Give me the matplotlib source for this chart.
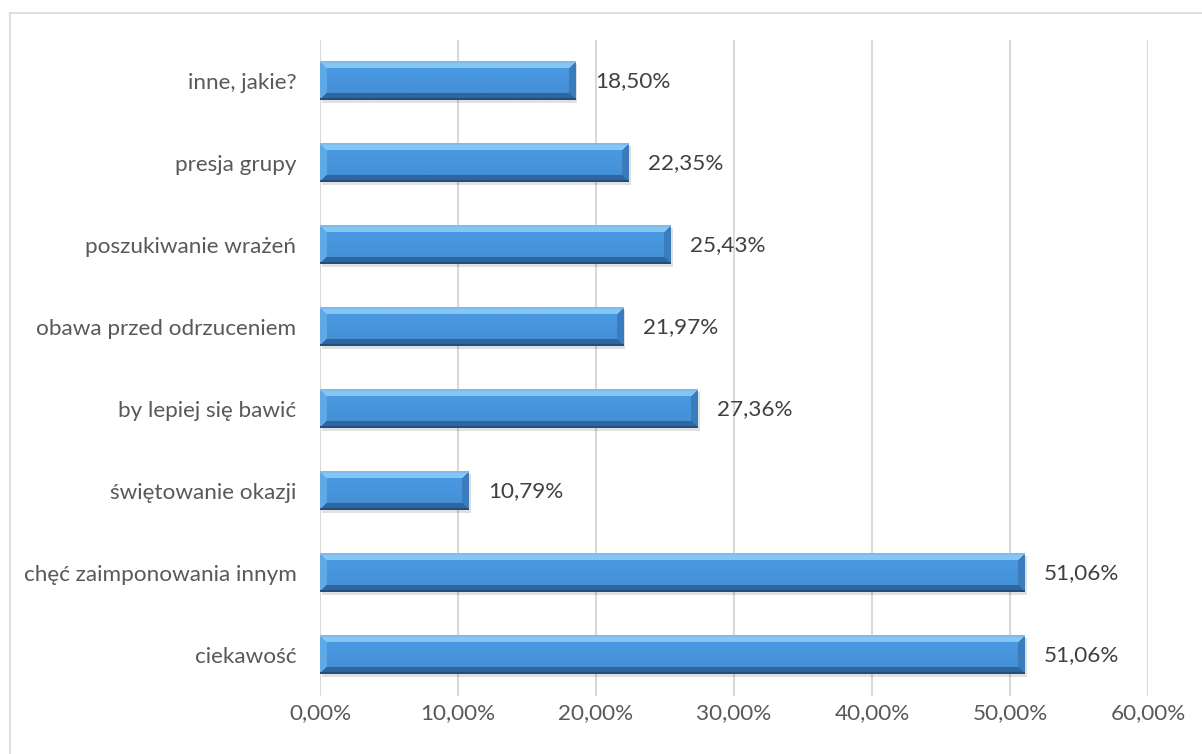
import numpy as np
import matplotlib
matplotlib.use("Agg")
import matplotlib.pyplot as plt
from matplotlib.lines import Line2D

categories = ["ciekawość", "chęć zaimponowania innym", "świętowanie okazji",
              "by lepiej się bawić", "obawa przed odrzuceniem",
              "poszukiwanie wrażeń", "presja grupy", "inne, jakie?"]
values = [51.06, 51.06, 10.79, 27.36, 21.97, 25.43, 22.35, 18.50]
xticks = [0, 10, 20, 30, 40, 50, 60]

plt.rcParams['font.family'] = ['Lato', 'DejaVu Sans']
TXT = '#595959'
FS = 16.2

W, H = 1202, 754
fig = plt.figure(figsize=(W / 100, H / 100), dpi=100)
ax = fig.add_axes([320 / W, (H - 696) / H, (1148 - 320) / W, (696 - 40) / H])

# figure border (left and top only visible)
fig.add_artist(Line2D([9.5 / W, 9.5 / W], [0, (H - 12.5) / H], transform=fig.transFigure,
                      color='#d9d9d9', lw=1.2))
fig.add_artist(Line2D([9.5 / W, 1], [(H - 12.5) / H, (H - 12.5) / H], transform=fig.transFigure,
                      color='#d9d9d9', lw=1.2))

ax.set_xlim(0, 60)
ax.set_ylim(-0.5, len(categories) - 0.5)
ax.set_xticks(xticks)
ax.set_xticklabels([f"{t:.2f}%".replace('.', ',') for t in xticks])
ax.set_yticks(range(len(categories)))
ax.set_yticklabels(categories)
ax.tick_params(axis='both', length=0, labelsize=FS, labelcolor=TXT)
ax.tick_params(axis='y', pad=17)
ax.tick_params(axis='x', pad=5)
for s in ax.spines.values():
    s.set_visible(False)
ax.grid(axis='x', color='#d9d9d9', lw=1.5)
ax.set_axisbelow(True)

bh = 0.47
base = np.array([0x46, 0x93, 0xda]) / 255.0
light = np.array([0x86, 0xc6, 0xf3]) / 255.0
dark = np.array([0x2f, 0x66, 0xa0]) / 255.0
left_c = np.array([0x5f, 0xaa, 0xe6]) / 255.0
right_c = np.array([0x3a, 0x7c, 0xbc]) / 255.0

px_per_unit_x = (1148 - 320) / 60.0
px_per_unit_y = (696 - 40) / len(categories)

bars = ax.barh(range(len(categories)), values, height=bh, color='none', zorder=2)
for i, (b, v) in enumerate(zip(bars, values)):
    wpx = max(int(round(v * px_per_unit_x)), 2)
    hpx = int(round(bh * px_per_unit_y))
    bev = 7
    yy, xx = np.mgrid[0:hpx, 0:wpx]
    dt = yy + 0.5
    db = hpx - yy - 0.5
    dl = xx + 0.5
    dr = wpx - xx - 0.5
    t = yy / max(hpx - 1, 1)
    img = np.ones((hpx, wpx, 3)) * base
    img = img * (1.05 - 0.08 * t)[..., None]
    dmin = np.minimum.reduce([dt, db, dl, dr])
    mask = dmin < bev
    which = np.argmin(np.stack([dt, db, dl, dr]), axis=0)
    cols = [light, dark, left_c, right_c]
    for k, c in enumerate(cols):
        m = mask & (which == k)
        img[m] = c
    img[hpx - 2:, :] = np.array([0x22, 0x4e, 0x80]) / 255.0
    img[0:2, :] = np.array([0x7a, 0xbc, 0xee]) / 255.0
    img = np.clip(img, 0, 1)
    y0 = i - bh / 2
    ax.add_patch(plt.Rectangle((0.15, y0 - 0.03), v, bh, color='#000000', alpha=0.12,
                               lw=0, zorder=1.5))
    ax.imshow(img, extent=[0, v, y0, i + bh / 2], aspect='auto', zorder=3,
              interpolation='bilinear')
    ax.annotate(f"{v:.2f}%".replace('.', ','), (v, i), xytext=(14, 0),
                textcoords='offset points', va='center', ha='left',
                fontsize=FS, color='#404040')

ax.set_xlim(0, 60)
ax.set_ylim(-0.5, len(categories) - 0.5)

fig.savefig('out.png', dpi=100, facecolor='white')
